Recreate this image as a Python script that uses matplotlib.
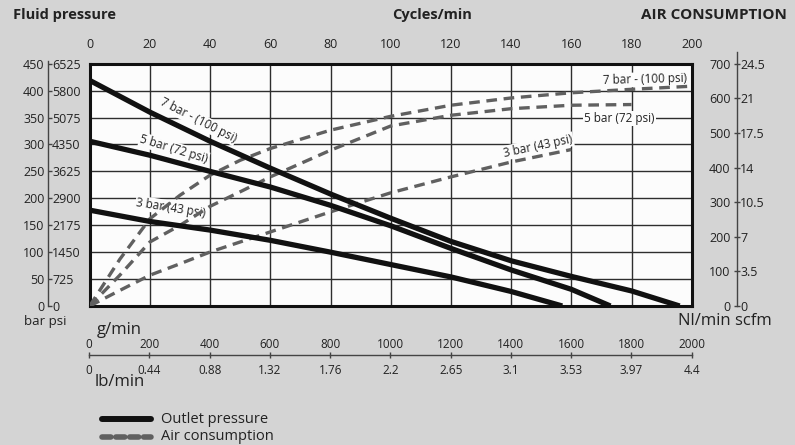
import matplotlib
matplotlib.use('Agg')
import matplotlib.pyplot as plt
import matplotlib.transforms as mtransforms
from matplotlib.lines import Line2D

plt.rcParams['font.family'] = ['Open Sans', 'DejaVu Sans']

# ---------------- data ----------------
cyc_ticks = [0, 20, 40, 60, 80, 100, 120, 140, 160, 180, 200]
bar_ticks = [0, 50, 100, 150, 200, 250, 300, 350, 400, 450]
psi_labels = ['0', '725', '1450', '2175', '2900', '3625', '4350', '5075', '5800', '6525']
nl_ticks = [0, 100, 200, 300, 400, 500, 600, 700]
scfm_labels = ['0', '3.5', '7', '10.5', '14', '17.5', '21', '24.5']
gmin_ticks = [0, 200, 400, 600, 800, 1000, 1200, 1400, 1600, 1800, 2000]
lbmin_labels = ['0', '0.44', '0.88', '1.32', '1.76', '2.2', '2.65', '3.1', '3.53', '3.97', '4.4']

# outlet pressure (bar) vs cycles/min
out7_x = [0, 20, 40, 60, 80, 100, 120, 140, 160, 180, 196]
out7_y = [419, 360, 306, 256, 208, 163, 120, 84, 55, 28, 0]
out5_x = [0, 20, 40, 60, 80, 100, 120, 140, 160, 173]
out5_y = [306, 280, 250, 221, 187, 149, 107, 67, 31, 0]
out3_x = [0, 20, 40, 60, 80, 100, 120, 140, 157]
out3_y = [178, 157, 141, 122, 100, 77, 54, 27, 0]

# air consumption (Nl/min) vs cycles/min
air7_x = [0, 10, 20, 30, 40, 50, 60, 80, 100, 120, 140, 160, 180, 200]
air7_y = [0, 135, 252, 320, 378, 421, 455, 508, 548, 580, 601, 616, 626, 635]
air5_x = [0, 10, 20, 30, 40, 50, 60, 80, 100, 120, 140, 160, 180]
air5_y = [0, 89, 185, 233, 288, 330, 373, 450, 520, 551, 570, 580, 582]
air3_x = [0, 10, 20, 30, 40, 50, 60, 80, 100, 120, 140, 160]
air3_y = [0, 45, 89, 122, 156, 185, 214, 272, 327, 373, 416, 452]

# ---------------- layout ----------------
W, H = 795, 445
BG = '#d4d4d4'
TXT = '#222222'
DASH = '#606060'

def fx(px):
    return px / W

def fy(py):
    return 1 - py / H

fig = plt.figure(figsize=(W / 100, H / 100), dpi=100, facecolor=BG)

L, R, T, B = 89.7, 691.7, 63.7, 306.0
ax = fig.add_axes([fx(L), fy(B), (R - L) / W, (B - T) / H])
ax.set_facecolor('#fcfcfc')
ax.set_xlim(0, 200)
ax.set_ylim(0, 450)
ax.set_axisbelow(True)
ax.set_xticks(cyc_ticks)
ax.set_yticks(bar_ticks)
ax.xaxis.tick_top()
ax.tick_params(axis='x', length=0, pad=9.2, labelsize=9, labelcolor=TXT)
ax.tick_params(axis='y', length=0, labelleft=False)
ax.grid(True, color='#2e2e2e', lw=1.0)
for s in ax.spines.values():
    s.set_linewidth(2.2)
    s.set_color('#111111')

# air transform: Nl/min (0-700) mapped to the same box
air_trans = mtransforms.Affine2D().scale(1, 450 / 700) + ax.transData

# outlet pressure lines
for xs, ys in [(out7_x, out7_y), (out5_x, out5_y), (out3_x, out3_y)]:
    ax.plot(xs, ys, color='#111111', lw=3.8, solid_capstyle='butt',
            solid_joinstyle='round', zorder=4)

# air consumption lines
for xs, ys in [(air7_x, air7_y), (air5_x, air5_y), (air3_x, air3_y)]:
    ax.plot(xs, ys, color=DASH, lw=2.4, dashes=(3.2, 2.0), transform=air_trans, zorder=3)

bb = dict(fc='#fcfcfc', ec='none', pad=0.6)
fs_lab = 8.5
ax.text(36, 345, '7 bar - (100 psi)', rotation=-27, ha='center', va='center',
        fontsize=fs_lab, color=TXT, bbox=bb, zorder=2.5)
ax.text(28, 291, '5 bar (72 psi)', rotation=-17, ha='center', va='center',
        fontsize=fs_lab, color=TXT, bbox=bb, zorder=2.5)
ax.text(27, 182, '3 bar (43 psi)', rotation=-9, ha='center', va='center',
        fontsize=fs_lab, color=TXT, bbox=bb, zorder=2.5)
ax.text(198.5, 654, '7 bar - (100 psi)', rotation=1.5, ha='right', va='center',
        fontsize=fs_lab, color=TXT, bbox=bb, zorder=2.5, transform=air_trans)
ax.text(176, 542, '5 bar (72 psi)', rotation=0, ha='center', va='center',
        fontsize=fs_lab, color=TXT, bbox=bb, zorder=2.5, transform=air_trans)
ax.text(149, 462, '3 bar (43 psi)', rotation=12, ha='center', va='center',
        fontsize=fs_lab, color=TXT, bbox=bb, zorder=2.5, transform=air_trans)

# ---------------- left pressure scale ----------------
xl = 47.7
fig.add_artist(Line2D([fx(xl), fx(xl)], [fy(60.7), fy(B)], color='#444444', lw=1.0))
axL = fig.add_axes([fx(xl), fy(B), 1e-5, (B - T) / H])
axL.set_ylim(0, 450)
axL.set_xticks([])
axL.patch.set_visible(False)
for s in axL.spines.values():
    s.set_visible(False)
axL2 = axL.twinx()
axL.set_yticks(bar_ticks)
axL.set_yticklabels([str(v) for v in bar_ticks])
axL.yaxis.set_ticks_position('left')
axL.tick_params(axis='y', length=0, pad=2.4, labelsize=9, labelcolor=TXT)
axL2.set_ylim(0, 450)
axL2.set_yticks(bar_ticks)
axL2.set_yticklabels(psi_labels)
axL2.yaxis.set_ticks_position('right')
axL2.tick_params(axis='y', direction='out', length=2.6, width=1, color='#444444',
                 pad=0.6, labelsize=9, labelcolor=TXT)
for s in axL2.spines.values():
    s.set_visible(False)

# ---------------- right air scale ----------------
xr = 736.7
fig.add_artist(Line2D([fx(xr), fx(xr)], [fy(51.7), fy(B)], color='#444444', lw=1.0))
axR = fig.add_axes([fx(xr), fy(B), 1e-5, (B - T) / H])
axR.set_ylim(0, 700)
axR.set_xticks([])
axR.patch.set_visible(False)
for s in axR.spines.values():
    s.set_visible(False)
axR2 = axR.twinx()
axR.set_yticks(nl_ticks)
axR.set_yticklabels([str(v) for v in nl_ticks])
axR.yaxis.set_ticks_position('left')
axR.tick_params(axis='y', direction='inout', length=5, width=1, color='#444444',
                pad=2.0, labelsize=9, labelcolor=TXT)
axR2.set_ylim(0, 700)
axR2.set_yticks(nl_ticks)
axR2.set_yticklabels(scfm_labels)
axR2.yaxis.set_ticks_position('right')
axR2.tick_params(axis='y', length=0, pad=2.4, labelsize=9, labelcolor=TXT)
for s in axR2.spines.values():
    s.set_visible(False)

# ---------------- bottom flow scale ----------------
yb = 355
axB = fig.add_axes([fx(89.2), fy(yb), (691.7 - 89.2) / W, 1e-5])
axB.set_xlim(0, 2000)
axB.set_yticks([])
axB.patch.set_visible(False)
axB2 = axB.twiny()
axB2.set_xlim(0, 2000)
axB2.set_yticks([])
# g/min on top of the line
axB.set_xticks(gmin_ticks)
axB.set_xticklabels([str(v) for v in gmin_ticks])
axB.xaxis.set_ticks_position('top')
axB.xaxis.set_label_position('top')
axB.tick_params(axis='x', which='both', top=True, bottom=False, labeltop=True,
                labelbottom=False, direction='inout', length=5, width=1,
                color='#444444', pad=0.3, labelsize=8.5, labelcolor=TXT)
for k, s in axB.spines.items():
    s.set_visible(k == 'bottom')
axB.spines['bottom'].set_color('#444444')
axB.spines['bottom'].set_linewidth(1.0)
# lb/min below the line
axB2.set_xticks(gmin_ticks)
axB2.set_xticklabels(lbmin_labels)
axB2.tick_params(axis='x', which='both', top=False, bottom=True, labeltop=False,
                 labelbottom=True, length=0, pad=6.5, labelsize=8.5, labelcolor=TXT)
for s in axB2.spines.values():
    s.set_visible(False)

# ---------------- texts ----------------
fig.text(fx(12.7), fy(15), 'Fluid pressure', fontsize=10.5, fontweight='bold',
         color=TXT, ha='left', va='center')
fig.text(fx(432.5), fy(15), 'Cycles/min', fontsize=10.5, fontweight='bold',
         color=TXT, ha='center', va='center')
fig.text(fx(787), fy(15), 'AIR CONSUMPTION', fontsize=11, fontweight='bold',
         color=TXT, ha='right', va='center')
fig.text(fx(24), fy(322), 'bar psi', fontsize=9.5, color=TXT, ha='left', va='center')
fig.text(fx(678), fy(320.7), 'Nl/min scfm', fontsize=12, color=TXT, ha='left', va='center')
fig.text(fx(96.7), fy(330), 'g/min', fontsize=12, color=TXT, ha='left', va='center')
fig.text(fx(95), fy(381.7), 'lb/min', fontsize=12, color=TXT, ha='left', va='center')

# ---------------- legend ----------------
fig.add_artist(Line2D([fx(102), fx(151)], [fy(419.3), fy(419.3)], color='#111111',
                      lw=4.3, solid_capstyle='round'))
fig.add_artist(Line2D([fx(102), fx(151)], [fy(437), fy(437)], color=DASH,
                      lw=4.0, dashes=(1.6, 0.9), dash_capstyle='round'))
fig.text(fx(161), fy(419.3), 'Outlet pressure', fontsize=10.5, color=TXT, ha='left', va='center')
fig.text(fx(161), fy(437), 'Air consumption', fontsize=10.5, color=TXT, ha='left', va='center')

fig.savefig('out.png', dpi=100, facecolor=BG)
